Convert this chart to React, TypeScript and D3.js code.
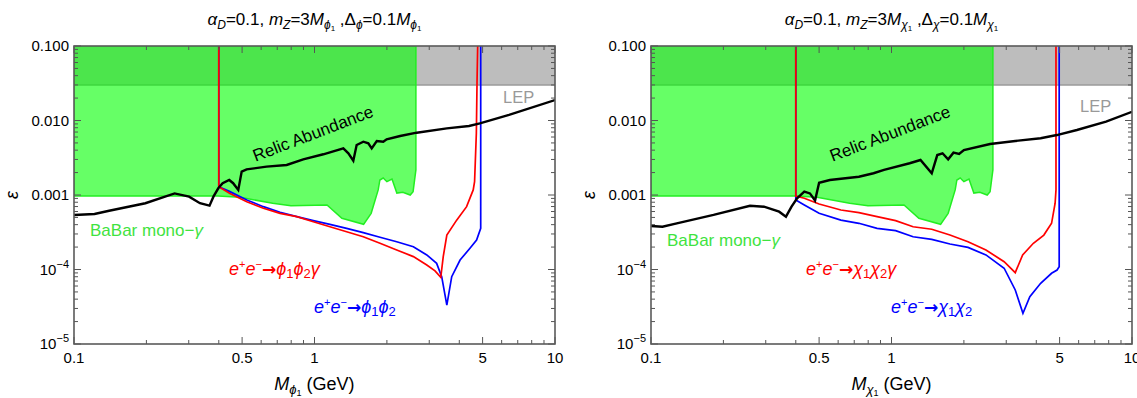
import React from "react";
import * as d3 from "d3";

type Pt = [number, number];

// axis ticks and labels
const massTicks = [0.1, 0.5, 1, 5, 10];
const massTickText = ["0.1", "0.5", "1", "5", "10"];
const epsTicks = [0.1, 0.01, 0.001, 1e-4, 1e-5];
const epsTickText = ["0.100", "0.010", "0.001", "10^-4", "10^-5"];

// LEP bound on epsilon
const lepLimit = 0.03;

// BaBar mono-photon excluded region, lower edge (mass, eps)
const babarEdge: Pt[] = [
  [0.1, 9.7e-4], [0.397, 9.7e-4], [0.49, 9.3e-4], [0.67, 7.75e-4], [0.798, 7.2e-4],
  [1.127, 7.35e-4], [1.3, 4.87e-4], [1.6, 4.04e-4], [1.72, 5.68e-4], [1.84, 1.17e-3],
  [1.87, 1.59e-3], [1.93, 1.69e-3], [2.0, 1.51e-3], [2.1, 1.64e-3], [2.2, 1.06e-3],
  [2.33, 1.09e-3], [2.5, 1.0e-3], [2.57, 1.11e-3], [2.64, 2.17e-3], [2.64, 0.1],
];

// scalar case (left)
const relicScalar: Pt[] = [
  [0.1, 5.4e-4], [0.1217, 5.56e-4], [0.14, 6.15e-4], [0.198, 7.75e-4], [0.262, 1.05e-3],
  [0.301, 9.5e-4], [0.334, 7.75e-4], [0.366, 7.2e-4], [0.38, 9.5e-4], [0.398, 1.23e-3],
  [0.415, 1.44e-3], [0.442, 1.59e-3], [0.459, 1.44e-3], [0.482, 1.17e-3], [0.498, 2.06e-3],
  [0.522, 2.21e-3], [0.632, 2.4e-3], [0.766, 2.53e-3], [0.898, 3.01e-3], [1.088, 3.52e-3],
  [1.318, 4.23e-3], [1.383, 3.63e-3], [1.45, 2.89e-3], [1.497, 4.69e-3], [1.596, 5.19e-3],
  [1.674, 4.94e-3], [1.729, 4.23e-3], [1.815, 5.31e-3], [1.932, 5.19e-3], [1.995, 5.6e-3],
  [2.27, 6.2e-3], [2.66, 6.86e-3], [3.55, 7.85e-3], [4.39, 8.43e-3], [4.87, 9.16e-3],
  [6.44, 1.19e-2], [10, 1.88e-2],
];
const gammaScalar: Pt[] = [
  [0.4, 0.1], [0.4, 1.29e-3], [0.445, 1.05e-3], [0.523, 8.13e-4], [0.613, 6.64e-4],
  [0.719, 5.68e-4], [0.844, 5.12e-4], [0.989, 4.38e-4], [1.159, 3.75e-4], [1.36, 3.21e-4],
  [1.595, 2.75e-4], [1.872, 2.25e-4], [2.197, 1.83e-4], [2.577, 1.49e-4], [2.93, 1.15e-4],
  [3.17, 9.6e-5], [3.35, 7.86e-5], [3.43, 1.49e-4], [3.55, 2.9e-4], [3.9, 4.6e-4],
  [4.29, 6.97e-4], [4.57, 1.17e-3], [4.63, 1.51e-3], [4.71, 6.8e-3], [4.74, 3.2e-2], [4.77, 0.1],
];
const pairScalar: Pt[] = [
  [0.4, 0.1], [0.4, 1.29e-3], [0.445, 1.11e-3], [0.523, 8.57e-4], [0.613, 6.97e-4],
  [0.719, 5.86e-4], [0.844, 5.12e-4], [0.989, 4.53e-4], [1.159, 4.04e-4], [1.36, 3.57e-4],
  [1.595, 3.12e-4], [1.872, 2.71e-4], [2.197, 2.36e-4], [2.577, 2.02e-4], [2.93, 1.57e-4],
  [3.22, 1.21e-4], [3.38, 8.0e-5], [3.55, 3.33e-5], [3.72, 8.0e-5], [4.03, 1.34e-4],
  [4.43, 1.93e-4], [4.72, 2.49e-4], [4.91, 3.57e-4], [4.91, 0.1],
];

// fermion case (right)
const relicFermion: Pt[] = [
  [0.1, 3.84e-4], [0.1116, 3.75e-4], [0.128, 4.17e-4], [0.182, 5.4e-4], [0.258, 7.18e-4],
  [0.295, 6.97e-4], [0.341, 5.97e-4], [0.364, 5.12e-4], [0.384, 6.97e-4], [0.405, 9.04e-4],
  [0.434, 1.11e-3], [0.458, 1.05e-3], [0.481, 8.43e-4], [0.5, 1.46e-3], [0.554, 1.59e-3],
  [0.732, 1.76e-3], [0.842, 1.96e-3], [0.931, 2.17e-3], [1.19, 2.67e-3], [1.32, 2.95e-3],
  [1.47, 1.96e-3], [1.55, 3.44e-3], [1.63, 3.63e-3], [1.72, 3.01e-3], [1.81, 3.7e-3],
  [1.91, 3.55e-3], [2.0, 4.02e-3], [2.57, 4.84e-3], [3.27, 5.31e-3], [4.17, 5.77e-3],
  [4.87, 6.38e-3], [5.9, 7.45e-3], [7.8, 9.63e-3], [10, 1.31e-2],
];
const gammaFermion: Pt[] = [
  [0.4, 0.1], [0.4, 9.7e-4], [0.434, 9.04e-4], [0.5, 7.57e-4], [0.616, 6.29e-4],
  [0.732, 5.79e-4], [0.871, 5.12e-4], [1.04, 4.52e-4], [1.23, 3.75e-4], [1.47, 3.47e-4],
  [1.75, 2.9e-4], [2.08, 2.36e-4], [2.47, 1.83e-4], [2.94, 1.27e-4], [3.27, 9.06e-5],
  [3.51, 1.57e-4], [3.89, 2.25e-4], [4.3, 2.9e-4], [4.63, 4.17e-4], [4.79, 7.75e-4],
  [4.83, 1.17e-3], [4.83, 0.1],
];
const pairFermion: Pt[] = [
  [0.4, 0.1], [0.4, 8.57e-4], [0.434, 7.35e-4], [0.5, 5.68e-4], [0.616, 4.61e-4],
  [0.732, 4.17e-4], [0.871, 3.57e-4], [1.04, 3.32e-4], [1.23, 2.75e-4], [1.47, 2.54e-4],
  [1.75, 2.2e-4], [2.08, 1.98e-4], [2.47, 1.57e-4], [2.94, 1.04e-4], [3.27, 5.31e-5],
  [3.52, 2.58e-5], [3.76, 4.32e-5], [4.17, 6.53e-5], [4.63, 8.9e-5], [4.88, 9.84e-5],
  [4.98, 1.09e-4], [4.98, 0.1],
];

const FONT = "'Liberation Sans', Arial, Helvetica, sans-serif";
const TOP = 46;
const BOTTOM = 344;
const WIDTH = 481;

const Title = ({ cx, s }: { cx: number; s: string }) => (
  <text x={cx} y={25} textAnchor="middle" fontSize={17}>
    <tspan fontStyle="italic">α</tspan>
    <tspan fontStyle="italic" fontSize={12} dy={4}>D</tspan>
    <tspan dy={-4}>{"=0.1, "}</tspan>
    <tspan fontStyle="italic">m</tspan>
    <tspan fontStyle="italic" fontSize={12} dy={4}>Z</tspan>
    <tspan dy={-4}>=3</tspan>
    <tspan fontStyle="italic">M</tspan>
    <tspan fontStyle="italic" fontSize={12} dy={4}>{s}</tspan>
    <tspan fontSize={8} dy={2}>1</tspan>
    <tspan dy={-6}>{" ,Δ"}</tspan>
    <tspan fontStyle="italic" fontSize={12} dy={4}>{s}</tspan>
    <tspan dy={-4}>=0.1</tspan>
    <tspan fontStyle="italic">M</tspan>
    <tspan fontStyle="italic" fontSize={12} dy={4}>{s}</tspan>
    <tspan fontSize={8} dy={2}>1</tspan>
  </text>
);

const Reaction = ({ x, y, s, gamma, color }: { x: number; y: number; s: string; gamma: boolean; color: string }) => (
  <text x={x} y={y} fontSize={18} fill={color}>
    <tspan fontStyle="italic">e</tspan>
    <tspan fontSize={11} dy={-7}>+</tspan>
    <tspan fontStyle="italic" dy={7}>e</tspan>
    <tspan fontSize={11} dy={-7}>−</tspan>
    <tspan dy={7} fontFamily="'DejaVu Sans', sans-serif" fontSize={17} fontWeight="bold">→</tspan>
    <tspan fontStyle="italic">{s}</tspan>
    <tspan fontSize={13} dy={3}>1</tspan>
    <tspan fontStyle="italic" dy={-3}>{s}</tspan>
    <tspan fontSize={13} dy={3}>2</tspan>
    {gamma ? <tspan fontStyle="italic" dy={-3}>γ</tspan> : null}
  </text>
);

type PanelProps = {
  left: number;
  s: string;
  relic: Pt[];
  gamma: Pt[];
  pair: Pt[];
  babarY: number;
  lepY: number;
};

const Panel = ({ left, s, relic, gamma, pair, babarY, lepY }: PanelProps) => {
  const right = left + WIDTH;
  const x = d3.scaleLog().domain([0.1, 10]).range([left, right]);
  const y = d3.scaleLog().domain([1e-5, 0.1]).range([BOTTOM, TOP]);
  const line = d3.line<Pt>().x(d => x(d[0])).y(d => y(d[1]));
  const clipId = `clip-${left}`;
  const babarPath = line([...babarEdge, [0.1, 0.1]]) + "Z";
  const xt = x.ticks();
  const yt = y.ticks();
  const isMajorX = (v: number) => massTicks.some(m => Math.abs(m - v) < 1e-9);
  const isMajorY = (v: number) => Math.abs(Math.log10(v) - Math.round(Math.log10(v))) < 1e-6;
  const cx = (left + right) / 2;

  return (
    <g fontFamily={FONT}>
      <defs>
        <clipPath id={clipId}>
          <rect x={left} y={TOP} width={WIDTH} height={BOTTOM - TOP} />
        </clipPath>
      </defs>
      <Title cx={cx} s={s} />
      <g clipPath={`url(#${clipId})`}>
        <rect x={left} y={y(0.1)} width={WIDTH} height={y(lepLimit) - y(0.1)} fill="#bdbdbd" />
        <line x1={left} x2={right} y1={y(lepLimit)} y2={y(lepLimit)} stroke="#9a9a9a" strokeWidth={1.5} />
        <path d={babarPath} fill="#00ff00" fillOpacity={0.6} stroke="#22ee22" strokeWidth={1.5} />
        <path d={line(pair) ?? ""} fill="none" stroke="#0000ff" strokeWidth={1.7} />
        <path d={line(gamma) ?? ""} fill="none" stroke="#ff0000" strokeWidth={1.7} />
        <path d={line(relic) ?? ""} fill="none" stroke="#000" strokeWidth={2.4} />
      </g>

      {/* ticks on all four sides */}
      {xt.map((v, i) => {
        const len = isMajorX(v) ? 7 : 4;
        return (
          <g key={`xt${i}`} stroke="#555" strokeWidth={1}>
            <line x1={x(v)} x2={x(v)} y1={BOTTOM} y2={BOTTOM - len} />
            <line x1={x(v)} x2={x(v)} y1={TOP} y2={TOP + len} />
          </g>
        );
      })}
      {yt.map((v, i) => {
        const len = isMajorY(v) ? 7 : 4;
        return (
          <g key={`yt${i}`} stroke="#555" strokeWidth={1}>
            <line x1={left} x2={left + len} y1={y(v)} y2={y(v)} />
            <line x1={right} x2={right - len} y1={y(v)} y2={y(v)} />
          </g>
        );
      })}
      <rect x={left} y={TOP} width={WIDTH} height={BOTTOM - TOP} fill="none" stroke="#5a5a5a" strokeWidth={1.6} />

      {massTicks.map((v, i) => (
        <text key={`xl${i}`} x={x(v)} y={363} textAnchor="middle" fontSize={15}>
          {massTickText[i]}
        </text>
      ))}
      {epsTicks.map((v, i) => {
        const parts = epsTickText[i].split("^");
        return (
          <text key={`yl${i}`} x={left - 5} y={y(v) + 5} textAnchor="end" fontSize={15}>
            {parts.length > 1 ? (
              <>
                <tspan>{parts[0]}</tspan>
                <tspan fontSize={11} dy={-7}>{parts[1].replace("-", "−")}</tspan>
              </>
            ) : (
              parts[0]
            )}
          </text>
        );
      })}

      <text transform={`translate(${left - 56},195) rotate(-90)`} textAnchor="middle" fontSize={18} fontStyle="italic">
        ε
      </text>
      <text x={cx} y={390} textAnchor="middle" fontSize={18}>
        <tspan fontStyle="italic">M</tspan>
        <tspan fontStyle="italic" fontSize={13} dy={4}>{s}</tspan>
        <tspan fontSize={9} dy={2}>1</tspan>
        <tspan dy={-6}>{" (GeV)"}</tspan>
      </text>

      <text x={right - 52} y={lepY} fontSize={16.5} fill="#999">LEP</text>
      <text transform={`translate(${left + 241},139) rotate(-21)`} textAnchor="middle" fontSize={17}>
        Relic Abundance
      </text>
      <text x={left + 16} y={babarY} fontSize={17} fill="#3fe33f">
        BaBar mono−<tspan fontStyle="italic">γ</tspan>
      </text>
      <Reaction x={left + 155} y={275} s={s} gamma={true} color="#ff0000" />
      <Reaction x={left + 240} y={313} s={s} gamma={false} color="#0000ff" />
    </g>
  );
};

const App = () => (
  <svg
    width={1137}
    height={398}
    style={{ position: "absolute", left: 0, top: 0, background: "#fff" }}
  >
    <Panel left={74} s="ϕ" relic={relicScalar} gamma={gammaScalar} pair={pairScalar} babarY={236} lepY={103} />
    <Panel left={651} s="χ" relic={relicFermion} gamma={gammaFermion} pair={pairFermion} babarY={246} lepY={112} />
  </svg>
);

export default App;
